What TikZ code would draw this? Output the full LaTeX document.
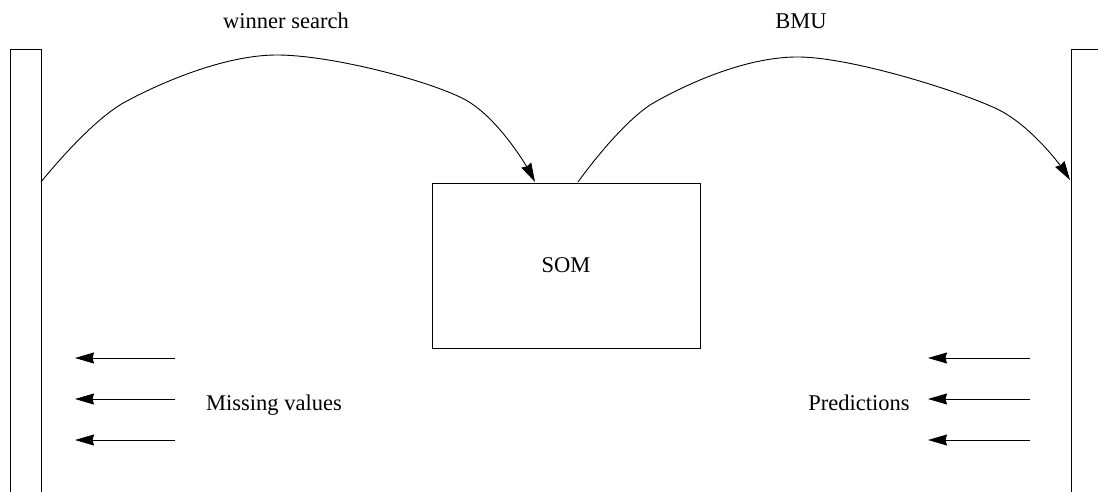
\documentclass[tikz,border=0pt]{standalone}
\usepackage{fontspec}
\setmainfont{Liberation Serif}
\usetikzlibrary{arrows.meta}
\begin{document}
\begin{tikzpicture}[x=1pt,y=-1pt, line width=0.9pt,
  box/.style={draw, rectangle, anchor=north west, inner sep=0pt, outer sep=0pt},
  lbl/.style={font=\fontsize{22.5}{27}\selectfont, inner sep=0pt, anchor=base},
  arr/.style={-{Stealth[length=19pt,width=11pt,inset=1.5pt]}}]
\useasboundingbox (0,0) rectangle (1098,491);
\clip (0,0) rectangle (1098,491);
% bars and SOM box
\node[box, minimum width=31pt, minimum height=460pt] (lbar) at (10,49) {};
\node[box, minimum width=40pt, minimum height=460pt] (rbar) at (1071,49) {};
\node[box, minimum width=268pt, minimum height=165pt,
      font=\fontsize{22.5}{27}\selectfont] (som) at (432,183) {SOM};
% curve end points
\coordinate (ws0) at (41,182);
\coordinate (ws1) at (535,182);
\coordinate (bm0) at (578,182);
\coordinate (bm1) at (1070,180);
\draw[arr] plot[smooth, tension=0.55] coordinates
  {(ws0) (125,102) (275,55) (462,98) (ws1)};
\draw[arr] plot[smooth, tension=0.55] coordinates
  {(bm0) (655,102) (800,57) (995,108) (bm1)};
% labels
\node[lbl] (wsl) at (286,28) {winner search};
\node[lbl] (bml) at (801,28) {BMU};
\node[lbl] (mvl) at (274,410) {Missing values};
\node[lbl] (prl) at (859,410) {Predictions};
% small arrows
\foreach \i/\y in {1/358,2/399,3/440}{
  \coordinate (la\i s) at (175,\y);
  \coordinate (la\i e) at (75,\y);
  \coordinate (ra\i s) at (1030,\y);
  \coordinate (ra\i e) at (928,\y);
  \draw[arr] (la\i s) -- (la\i e);
  \draw[arr] (ra\i s) -- (ra\i e);
}
\end{tikzpicture}
\end{document}
